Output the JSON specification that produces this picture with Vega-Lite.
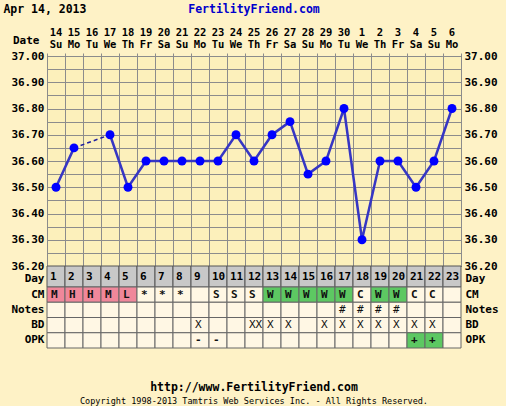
{
  "$schema": "https://vega.github.io/schema/vega-lite/v6.json",
  "background": "#FEF2C6",
  "padding": {"left": 3, "top": 3, "right": 12, "bottom": 12},
  "bounds": "flush",
  "spacing": 0,
  "title": {"text": "Apr 14, 2013", "anchor": "start", "frame": "bounds", "offset": -12, "dx": -7, "font": "DejaVu Sans Mono", "fontSize": 11.5, "fontWeight": "bold", "color": "#000000"},
  "config": {
    "font": "DejaVu Sans Mono",
    "view": {"stroke": null},
    "axis": {"labelFont": "DejaVu Sans Mono", "labelFontSize": 11, "labelFontWeight": "bold", "labelColor": "#000000", "ticks": false, "domain": false, "title": null, "labelPadding": 3, "labelOverlap": false, "labelBound": false, "labelFlush": false}
  },
  "datasets": {
    "days": [
      {"day": 1, "date": "14", "dow": "Su", "temp": 36.50, "CM": "M", "Notes": "", "BD": "", "OPK": ""},
      {"day": 2, "date": "15", "dow": "Mo", "temp": 36.65, "CM": "H", "Notes": "", "BD": "", "OPK": ""},
      {"day": 3, "date": "16", "dow": "Tu", "temp": null, "CM": "H", "Notes": "", "BD": "", "OPK": ""},
      {"day": 4, "date": "17", "dow": "We", "temp": 36.70, "CM": "M", "Notes": "", "BD": "", "OPK": ""},
      {"day": 5, "date": "18", "dow": "Th", "temp": 36.50, "CM": "L", "Notes": "", "BD": "", "OPK": ""},
      {"day": 6, "date": "19", "dow": "Fr", "temp": 36.60, "CM": "*", "Notes": "", "BD": "", "OPK": ""},
      {"day": 7, "date": "20", "dow": "Sa", "temp": 36.60, "CM": "*", "Notes": "", "BD": "", "OPK": ""},
      {"day": 8, "date": "21", "dow": "Su", "temp": 36.60, "CM": "*", "Notes": "", "BD": "", "OPK": ""},
      {"day": 9, "date": "22", "dow": "Mo", "temp": 36.60, "CM": "", "Notes": "", "BD": "X", "OPK": "-"},
      {"day": 10, "date": "23", "dow": "Tu", "temp": 36.60, "CM": "S", "Notes": "", "BD": "", "OPK": "-"},
      {"day": 11, "date": "24", "dow": "We", "temp": 36.70, "CM": "S", "Notes": "", "BD": "", "OPK": ""},
      {"day": 12, "date": "25", "dow": "Th", "temp": 36.60, "CM": "S", "Notes": "", "BD": "XX", "OPK": ""},
      {"day": 13, "date": "26", "dow": "Fr", "temp": 36.70, "CM": "W", "Notes": "", "BD": "X", "OPK": ""},
      {"day": 14, "date": "27", "dow": "Sa", "temp": 36.75, "CM": "W", "Notes": "", "BD": "X", "OPK": ""},
      {"day": 15, "date": "28", "dow": "Su", "temp": 36.55, "CM": "W", "Notes": "", "BD": "", "OPK": ""},
      {"day": 16, "date": "29", "dow": "Mo", "temp": 36.60, "CM": "W", "Notes": "", "BD": "X", "OPK": ""},
      {"day": 17, "date": "30", "dow": "Tu", "temp": 36.80, "CM": "W", "Notes": "#", "BD": "X", "OPK": ""},
      {"day": 18, "date": "1", "dow": "We", "temp": 36.30, "CM": "C", "Notes": "#", "BD": "X", "OPK": ""},
      {"day": 19, "date": "2", "dow": "Th", "temp": 36.60, "CM": "W", "Notes": "#", "BD": "X", "OPK": ""},
      {"day": 20, "date": "3", "dow": "Fr", "temp": 36.60, "CM": "W", "Notes": "#", "BD": "X", "OPK": ""},
      {"day": 21, "date": "4", "dow": "Sa", "temp": 36.50, "CM": "C", "Notes": "", "BD": "X", "OPK": "+"},
      {"day": 22, "date": "5", "dow": "Su", "temp": 36.60, "CM": "C", "Notes": "", "BD": "X", "OPK": "+"},
      {"day": 23, "date": "6", "dow": "Mo", "temp": 36.80, "CM": "", "Notes": "", "BD": "", "OPK": ""}
    ]
  },
  "vconcat": [
    {
      "width": 414,
      "height": 31,
      "title": {"text": "FertilityFriend.com", "anchor": "middle", "frame": "group", "offset": 10, "font": "DejaVu Sans Mono", "fontSize": 11.5, "fontWeight": "bold", "color": "#0000CC"},
      "data": {"name": "days"},
      "encoding": {
        "x": {"field": "day", "type": "ordinal", "scale": {"type": "band", "paddingInner": 0, "paddingOuter": 0}, "axis": null},
        "y": {"datum": "Date", "type": "nominal", "scale": {"type": "point"}, "axis": {"orient": "left", "labelPadding": 8}}
      },
      "layer": [
        {"mark": {"type": "text", "align": "center", "baseline": "middle", "dy": -7.5, "fontSize": 10.5, "fontWeight": "bold", "color": "#000000"}, "encoding": {"text": {"field": "date"}}},
        {"mark": {"type": "text", "align": "center", "baseline": "middle", "dy": 4.5, "fontSize": 10.5, "fontWeight": "bold", "color": "#000000"}, "encoding": {"text": {"field": "dow"}}}
      ]
    },
    {
      "width": 414,
      "height": 210,
      "view": {"fill": "#FCF0BB", "stroke": "#333333", "strokeWidth": 1},
      "data": {"name": "days"},
      "encoding": {
        "x": {"field": "day", "type": "quantitative", "scale": {"domain": [0.5, 23.5], "nice": false, "zero": false},
              "axis": {"orient": "top", "values": [0.5,1.5,2.5,3.5,4.5,5.5,6.5,7.5,8.5,9.5,10.5,11.5,12.5,13.5,14.5,15.5,16.5,17.5,18.5,19.5,20.5,21.5,22.5,23.5], "grid": true, "gridColor": "#8C8C8C", "gridOpacity": 1, "labels": false, "ticks": true, "tickSize": 3, "tickColor": "#8C8C8C"}}
      },
      "layer": [
        {
          "mark": {"type": "line", "color": "#3636C4", "strokeWidth": 2.5, "invalid": "break-paths-show-domains"},
          "encoding": {"y": {"field": "temp", "type": "quantitative", "scale": {"domain": [36.2, 37.0], "nice": false, "zero": false},
            "axis": {"orient": "left", "values": [36.2,36.25,36.3,36.35,36.4,36.45,36.5,36.55,36.6,36.65,36.7,36.75,36.8,36.85,36.9,36.95,37.0], "grid": true, "gridColor": "#8C8C8C", "gridOpacity": 1,
                     "labelExpr": "abs(datum.value*10 - round(datum.value*10)) < 0.01 ? format(datum.value, '.2f') : ''"}}}
        },
        {
          "transform": [{"filter": {"field": "day", "range": [2, 4]}}, {"filter": {"field": "temp", "valid": true}}],
          "mark": {"type": "line", "color": "#1E1EA0", "strokeWidth": 1.5, "strokeDash": [4, 3]},
          "encoding": {"y": {"field": "temp", "type": "quantitative", "axis": null}}
        },
        {
          "mark": {"type": "point", "shape": "circle", "filled": true, "size": 80, "color": "#0000FF", "opacity": 1},
          "encoding": {"y": {"field": "temp", "type": "quantitative",
            "axis": {"orient": "right", "values": [36.2,36.3,36.4,36.5,36.6,36.7,36.8,36.9,37.0], "grid": false, "labelPadding": 3, "format": ".2f"}}}
        }
      ],
      "resolve": {"axis": {"y": "independent"}}
    },
    {
      "width": 414,
      "height": 21,
      "data": {"name": "days"},
      "encoding": {
        "x": {"field": "day", "type": "ordinal", "scale": {"type": "band", "paddingInner": 0, "paddingOuter": 0}, "axis": null}
      },
      "layer": [
        {
          "mark": {"type": "rect", "fill": "#C8C8C8", "stroke": "#555555", "strokeWidth": 1},
          "encoding": {"y": {"datum": "Day", "type": "nominal", "scale": {"type": "band", "paddingInner": 0, "paddingOuter": 0}, "axis": {"orient": "left", "labelOffset": 2}}}
        },
        {
          "mark": {"type": "text", "align": "left", "baseline": "middle", "dx": -6, "fontSize": 11, "fontWeight": "bold", "color": "#000000"},
          "encoding": {"text": {"field": "day"}, "y": {"datum": "Day", "type": "nominal", "axis": {"orient": "right", "labelPadding": 4, "labelOffset": 2}}}
        }
      ],
      "resolve": {"axis": {"y": "independent"}}
    },
    {
      "width": 414,
      "height": 61,
      "title": {"text": "http://www.FertilityFriend.com", "subtitle": "Copyright 1998-2013 Tamtris Web Services Inc. - All Rights Reserved.", "orient": "bottom", "anchor": "middle", "frame": "group", "offset": 33, "font": "DejaVu Sans Mono", "fontSize": 11.5, "fontWeight": "bold", "color": "#000000", "subtitleFont": "DejaVu Sans Mono", "subtitleFontSize": 8.5, "subtitleColor": "#000000", "subtitlePadding": 4},
      "data": {"name": "days"},
      "transform": [{"fold": ["CM", "Notes", "BD", "OPK"], "as": ["row", "mark"]}],
      "encoding": {
        "x": {"field": "day", "type": "ordinal", "scale": {"type": "band", "paddingInner": 0, "paddingOuter": 0}, "axis": null}
      },
      "layer": [
        {
          "mark": {"type": "rect", "stroke": "#666666", "strokeWidth": 1},
          "encoding": {
            "y": {"field": "row", "type": "nominal", "sort": ["CM", "Notes", "BD", "OPK"], "scale": {"type": "band", "domain": ["CM", "Notes", "BD", "OPK"], "paddingInner": 0, "paddingOuter": 0}, "axis": {"orient": "left"}},
            "fill": {
              "condition": [
                {"test": "datum.row === 'CM' && indexof(['M','H','L'], datum.mark) >= 0", "value": "#F0879A"},
                {"test": "(datum.row === 'CM' && datum.mark === 'W') || (datum.row === 'OPK' && datum.mark === '+')", "value": "#5DC862"}
              ],
              "value": "#FFF7E4"
            }
          }
        },
        {
          "transform": [{"filter": {"field": "row", "oneOf": ["CM", "OPK"]}}],
          "mark": {"type": "text", "align": "left", "baseline": "middle", "dx": -5, "fontSize": 11, "fontWeight": "bold", "color": "#111111"},
          "encoding": {"text": {"field": "mark"}, "y": {"field": "row", "type": "nominal", "axis": null}}
        },
        {
          "transform": [{"filter": {"field": "row", "oneOf": ["Notes", "BD"]}}],
          "mark": {"type": "text", "align": "left", "baseline": "middle", "dx": -5, "fontSize": 11, "fontWeight": "normal", "color": "#111111"},
          "encoding": {"text": {"field": "mark"}, "y": {"field": "row", "type": "nominal", "axis": {"orient": "right", "labelPadding": 4}}}
        }
      ],
      "resolve": {"axis": {"y": "independent"}}
    }
  ]
}
